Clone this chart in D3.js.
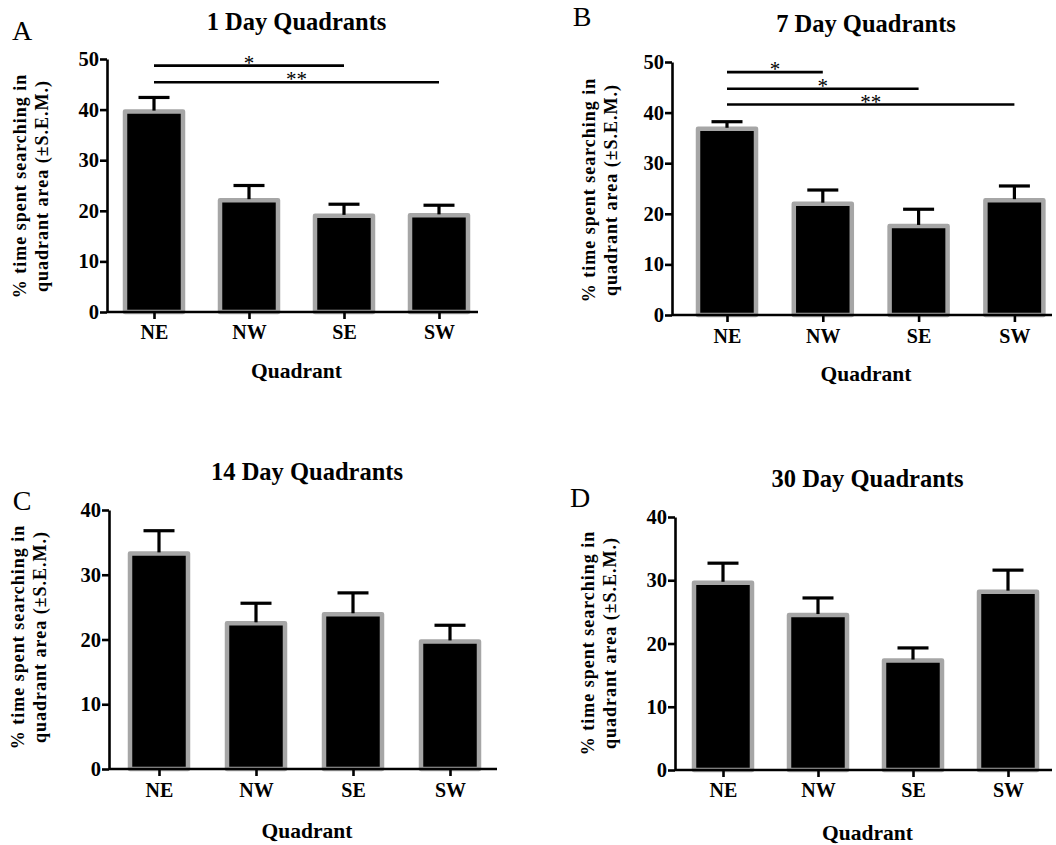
<!DOCTYPE html>
<html>
<head>
<meta charset="utf-8">
<script src="https://cdn.jsdelivr.net/npm/d3@7"></script>
<style>
  html, body { margin: 0; padding: 0; background: #fff; }
  svg { display: block; }
  text { font-family: "Liberation Serif", "Times New Roman", serif; fill: #000; }
  .b { font-weight: bold; }
</style>
</head>
<body>
<svg id="chart" width="1056" height="845"></svg>
<script>
// ---- data ----
const categories = ["NE", "NW", "SE", "SW"];
const panelLetters = ["A", "B", "C", "D"];
const panelTitles = ["1 Day Quadrants", "7 Day Quadrants", "14 Day Quadrants", "30 Day Quadrants"];
const yTicksA = [0, 10, 20, 30, 40, 50];
const yTicksB = [0, 10, 20, 30, 40, 50];
const yTicksC = [0, 10, 20, 30, 40];
const yTicksD = [0, 10, 20, 30, 40];

const day1Mean = [39.6, 22.1, 19.0, 19.1];
const day1Sem  = [2.8, 2.9, 2.3, 2.0];
const day7Mean = [36.8, 22.0, 17.6, 22.7];
const day7Sem  = [1.4, 2.7, 3.3, 2.8];
const day14Mean = [33.3, 22.5, 23.9, 19.7];
const day14Sem  = [3.5, 3.1, 3.3, 2.5];
const day30Mean = [29.6, 24.5, 17.3, 28.2];
const day30Sem  = [3.1, 2.7, 2.0, 3.4];

const day1Sig = [
  { from: "NE", to: "SE", level: 48.7, label: "*" },
  { from: "NE", to: "SW", level: 45.4, label: "**" }
];
const day7Sig = [
  { from: "NE", to: "NW", level: 48.0, label: "*" },
  { from: "NE", to: "SE", level: 44.7, label: "*" },
  { from: "NE", to: "SW", level: 41.6, label: "**" }
];
const day14Sig = [];
const day30Sig = [];

const yLabel1 = "% time spent searching in";
const yLabel2 = "quadrant area (\u00b1S.E.M.)";
const xLabel = "Quadrant";

// ---- layout ----
const panels = [
  { mean: day1Mean, sem: day1Sem, sig: day1Sig, ticks: yTicksA, max: 50,
    ax: 107, y0: 312, yTop: 59, c0: 154, step: 95, xEnd: 478,
    letter: [22, 40], titleY: 30, tickY: 339, xLabY: 378, yLabX: [20, 42], yLabC: 186 },
  { mean: day7Mean, sem: day7Sem, sig: day7Sig, ticks: yTicksB, max: 50,
    ax: 672, y0: 315, yTop: 62, c0: 727, step: 95.8, xEnd: 1052,
    letter: [582, 26], titleY: 32, tickY: 343, xLabY: 381, yLabX: [589, 611], yLabC: 190 },
  { mean: day14Mean, sem: day14Sem, sig: day14Sig, ticks: yTicksC, max: 40,
    ax: 109, y0: 769, yTop: 510, c0: 159, step: 97, xEnd: 497,
    letter: [22, 510], titleY: 480, tickY: 797, xLabY: 838, yLabX: [18, 40], yLabC: 637 },
  { mean: day30Mean, sem: day30Sem, sig: day30Sig, ticks: yTicksD, max: 40,
    ax: 675, y0: 770, yTop: 517, c0: 723, step: 95, xEnd: 1052,
    letter: [580, 507], titleY: 487, tickY: 797, xLabY: 840, yLabX: [588, 610], yLabC: 643 }
];

const svg = d3.select("#chart");
const barW = 58, capHalf = 15.5;

panels.forEach((p, i) => {
  const g = svg.append("g");
  const y = d3.scaleLinear().domain([0, p.max]).range([p.y0, p.yTop]);
  const x = d3.scalePoint().domain(categories).range([p.c0, p.c0 + p.step * (categories.length - 1)]);
  const midX = (p.ax + p.xEnd) / 2;

  // panel letter
  g.append("text").attr("x", p.letter[0]).attr("y", p.letter[1])
    .attr("text-anchor", "middle").style("font-size", "28px").text(panelLetters[i]);
  // title
  g.append("text").attr("class", "b").attr("x", midX + 4).attr("y", p.titleY)
    .attr("text-anchor", "middle").style("font-size", "24.5px").text(panelTitles[i]);

  // bars
  const rows = categories.map((c, k) => ({ c, m: p.mean[k], s: p.sem[k] }));
  g.selectAll("rect.bar").data(rows).join("rect").attr("class", "bar")
    .attr("x", d => x(d.c) - barW / 2).attr("width", barW)
    .attr("y", d => y(d.m)).attr("height", d => y(0) - y(d.m))
    .attr("fill", "#000").attr("stroke", "#a6a6a6").attr("stroke-width", 4.5)
    .attr("stroke-linejoin", "round");

  // error bars (upper)
  g.selectAll("line.ev").data(rows).join("line").attr("class", "ev")
    .attr("x1", d => x(d.c)).attr("x2", d => x(d.c))
    .attr("y1", d => y(d.m) - 1).attr("y2", d => y(d.m + d.s))
    .attr("stroke", "#000").attr("stroke-width", 3.2);
  g.selectAll("line.ec").data(rows).join("line").attr("class", "ec")
    .attr("x1", d => x(d.c) - capHalf).attr("x2", d => x(d.c) + capHalf)
    .attr("y1", d => y(d.m + d.s)).attr("y2", d => y(d.m + d.s))
    .attr("stroke", "#000").attr("stroke-width", 3.2);

  // y axis
  const yAxis = d3.axisLeft(y).tickValues(p.ticks).tickSize(7).tickPadding(1).tickSizeOuter(0);
  const ya = g.append("g").attr("transform", `translate(${p.ax},0)`).call(yAxis);
  ya.select(".domain").attr("stroke-width", 2.6);
  ya.selectAll(".tick line").attr("stroke-width", 2.6);
  ya.selectAll(".tick text").attr("class", "b").style("font-size", "20.5px")
    .style("font-family", '"Liberation Serif", "Times New Roman", serif').attr("fill", "#000");

  // x axis
  const xAxis = d3.axisBottom(x).tickSize(7).tickPadding(0).tickSizeOuter(0);
  const xa = g.append("g").attr("transform", `translate(0,${p.y0})`).call(xAxis);
  xa.select(".domain").remove();
  xa.append("line").attr("x1", p.ax).attr("x2", p.xEnd).attr("y1", 0).attr("y2", 0)
    .attr("stroke", "#000").attr("stroke-width", 2.6);
  xa.selectAll(".tick line").attr("stroke-width", 2.6);
  xa.selectAll(".tick text").attr("class", "b").attr("y", p.tickY - p.y0).attr("dy", 0)
    .style("font-size", "20px")
    .style("font-family", '"Liberation Serif", "Times New Roman", serif').attr("fill", "#000");

  // x label
  g.append("text").attr("class", "b").attr("x", midX + 4).attr("y", p.xLabY)
    .attr("text-anchor", "middle").style("font-size", "21.5px").text(xLabel);

  // y label (two lines, rotated)
  [yLabel1, yLabel2].forEach((t, j) => {
    g.append("text").attr("class", "b")
      .attr("transform", `translate(${p.yLabX[j] + 6},${p.yLabC}) rotate(-90)`)
      .attr("text-anchor", "middle").style("font-size", "18px").style("letter-spacing", "1px")
      .text(t);
  });

  // significance lines
  p.sig.forEach(s => {
    const x1 = x(s.from), x2 = x(s.to);
    g.append("line").attr("x1", x1).attr("x2", x2).attr("y1", y(s.level)).attr("y2", y(s.level))
      .attr("stroke", "#000").attr("stroke-width", 2.6);
    g.append("text").attr("x", (x1 + x2) / 2).attr("y", y(s.level) + 4)
      .attr("text-anchor", "middle").style("font-size", "21px").text(s.label);
  });
});
</script>
</body>
</html>
